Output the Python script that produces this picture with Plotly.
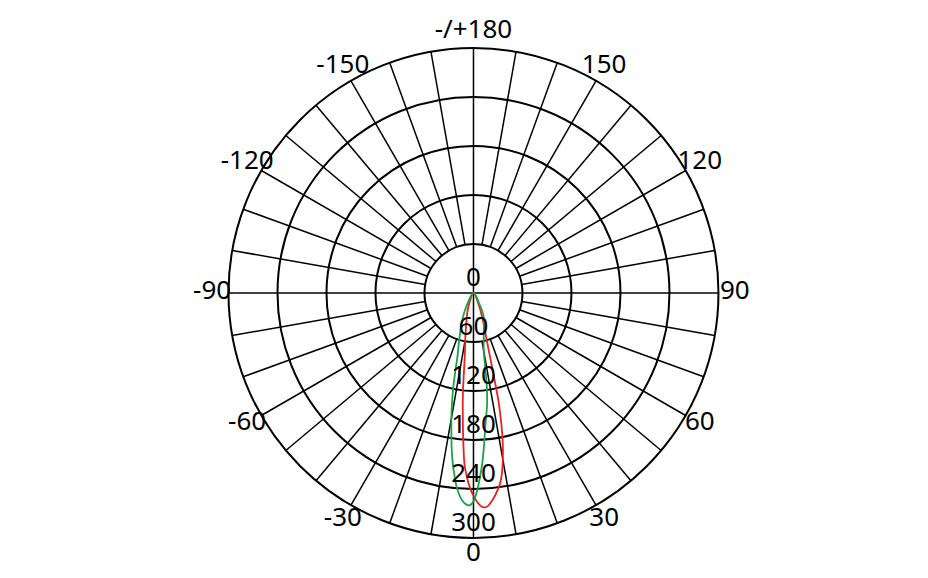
import numpy as np
import plotly.graph_objects as go

# ---- data ----
angle_tickvals = [0, 30, 60, 90, 120, 150, 180, 210, 240, 270, 300, 330]
angle_ticktext = ["0", "30", "60", "90", "120", "150", "-/+180", "-150", "-120", "-90", "-60", "-30"]
radial_ticks = [0, 60, 120, 180, 240, 300]

green_theta = [-32, -28, -24, -20, -17, -14, -13, -12, -11, -10, -9, -8, -7, -6, -5, -4, -3, -2, -1,
               0, 1, 2, 3, 4, 5, 6, 7, 8, 9, 10, 12, 16, 20, 24, 28, 32]
green_r = [0, 18, 31, 45, 60, 82, 100, 120, 138, 156, 173, 192, 209, 224, 238, 248, 255, 259, 260,
           255, 243, 226, 208, 186, 165, 150, 137, 118, 92, 72, 60, 46, 37, 30, 16, 0]

red_theta = [-28, -22, -18, -15, -12, -10, -8, -7, -6, -5, -4, -3, -2, -1,
             0, 1, 2, 3, 4, 5, 6, 7, 8, 9, 10, 11, 12, 13, 14, 16, 18, 20, 24, 28]
red_r = [0, 14, 24, 32, 45, 58, 76, 95, 124, 150, 180, 210, 226, 239,
         248, 256, 261, 263, 261, 256, 250, 243, 235, 223, 207, 188, 164, 136, 95, 56, 41, 30, 16, 0]

RMAX = radial_ticks[-1]
INNER = radial_ticks[1]
AXIS_MAX = 330      # extra room so the angular labels sit inside the polar range
LABEL_R = 320       # radius of the angular labels

FONT = dict(size=26, color="black", family="Noto Sans")

fig = go.Figure()

# spokes (grid): every 10 deg from inner circle outwards, main axes through the centre
sp_r, sp_t = [], []
for a in range(0, 360, 10):
    start = 0 if a % 90 == 0 else INNER
    sp_r += [start, RMAX, None]
    sp_t += [a, a, None]
fig.add_trace(go.Scatterpolar(r=sp_r, theta=sp_t, mode="lines",
                              line=dict(color="black", width=1.5),
                              hoverinfo="skip", showlegend=False))

fig.add_trace(go.Scatterpolar(r=red_r, theta=red_theta, mode="lines",
                              line=dict(color="#e8231f", width=1.8, shape="spline"),
                              showlegend=False))
fig.add_trace(go.Scatterpolar(r=green_r, theta=green_theta, mode="lines",
                              line=dict(color="#16a34a", width=1.8, shape="spline"),
                              showlegend=False))

# radial labels along the 0 direction
fig.add_trace(go.Scatterpolar(r=radial_ticks, theta=[0] * len(radial_ticks), mode="text",
                              text=[str(v) for v in radial_ticks], textposition="top center",
                              textfont=FONT, hoverinfo="skip", showlegend=False))

# angular labels
fig.add_trace(go.Scatterpolar(r=[LABEL_R] * len(angle_tickvals), theta=angle_tickvals,
                              mode="text", text=angle_ticktext, textposition="middle center",
                              textfont=FONT, cliponaxis=False,
                              hoverinfo="skip", showlegend=False))

fig.update_layout(
    width=928, height=578,
    margin=dict(l=0, r=0, t=0, b=0),
    paper_bgcolor="white", plot_bgcolor="white",
    font=FONT,
    polar=dict(
        domain=dict(x=[0.2112, 0.7920], y=[0.0407, 0.9732]),
        bgcolor="white",
        angularaxis=dict(rotation=-90, direction="counterclockwise",
                         tickvals=angle_tickvals, showticklabels=False,
                         showgrid=False, ticks="", showline=False),
        radialaxis=dict(range=[0, AXIS_MAX], tickvals=radial_ticks[1:], showticklabels=False,
                        ticks="", showline=False, gridcolor="black", gridwidth=1.5),
    ),
)

fig.write_html("out.html")
